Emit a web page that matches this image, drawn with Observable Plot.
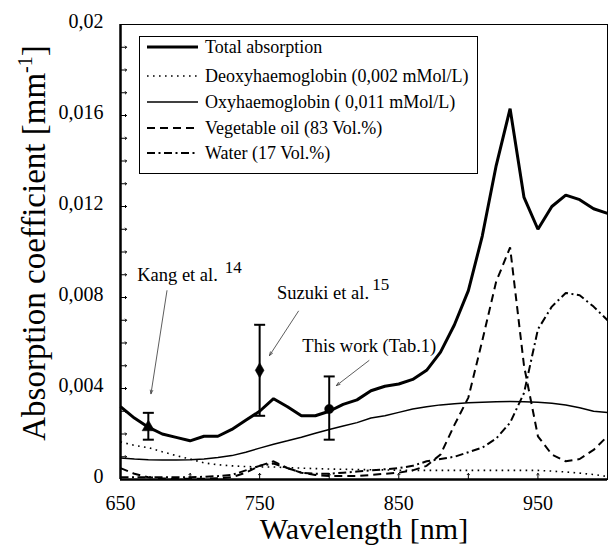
<!DOCTYPE html>
<html>
<head>
<meta charset="utf-8">
<script src="https://cdn.jsdelivr.net/npm/d3@7"></script>
<script src="https://cdn.jsdelivr.net/npm/@observablehq/plot@0.6"></script>
<style>
  html, body { margin: 0; padding: 0; background: #fff; }
  #chart svg { display: block; }
  #chart svg text { font-family: "Liberation Serif", serif; }
</style>
</head>
<body>
<div id="chart"></div>
<script>
// ---- data ----
const wavelength = [650,660,670,680,690,700,710,720,730,740,750,760,770,780,790,800,810,820,830,840,850,860,870,880,890,900,910,920,930,940,950,960,970,980,990,1000];
const totalAbs = [0.0032,0.0027,0.0023,0.0020,0.00185,0.0017,0.0019,0.0019,0.0022,0.0026,0.0030,0.00355,0.0032,0.0028,0.0028,0.0030,0.0033,0.0035,0.0039,0.0041,0.0042,0.0044,0.0048,0.0056,0.0068,0.0083,0.0107,0.0138,0.0163,0.0124,0.0110,0.0120,0.0125,0.0123,0.0119,0.0117];
const deoxy = [0.00165,0.0015,0.0014,0.00122,0.00105,0.0009,0.00073,0.00065,0.0006,0.00057,0.00055,0.00055,0.00052,0.0005,0.00048,0.00046,0.00045,0.00044,0.00043,0.00042,0.00041,0.0004,0.0004,0.0004,0.0004,0.0004,0.0004,0.0004,0.0004,0.0004,0.0004,0.00037,0.00033,0.00028,0.00022,0.00013];
const oxy = [0.00095,0.0009,0.00087,0.00086,0.00086,0.00087,0.0009,0.00097,0.00105,0.0012,0.00138,0.00155,0.0017,0.00186,0.00203,0.0022,0.00235,0.0025,0.0027,0.0028,0.00295,0.0031,0.0032,0.00328,0.00333,0.00337,0.0034,0.00342,0.00343,0.00342,0.0034,0.00335,0.00327,0.00315,0.003,0.00295];
const oil = [0.0005,0.00025,0.0001,0.00005,0.00003,0.00003,0.00003,0.00005,0.0001,0.0003,0.0006,0.0008,0.0005,0.0003,0.0002,0.00015,0.00015,0.00015,0.0002,0.00025,0.0003,0.0004,0.0006,0.0011,0.0024,0.0036,0.0061,0.0087,0.0102,0.0050,0.0019,0.0011,0.0008,0.0009,0.0013,0.0019];
const water = [0.0001,0.0001,0.0001,0.0001,0.0001,0.0001,0.00012,0.00015,0.0002,0.0004,0.0006,0.0007,0.0005,0.0003,0.00025,0.00025,0.0003,0.00035,0.0004,0.00045,0.0005,0.0006,0.0008,0.0009,0.001,0.0012,0.0014,0.0018,0.0025,0.0038,0.0066,0.0076,0.0082,0.0081,0.0076,0.007];

const seriesNames = ["Total absorption","Deoxyhaemoglobin (0,002 mMol/L)","Oxyhaemoglobin ( 0,011 mMol/L)","Vegetable oil (83 Vol.%)","Water (17 Vol.%)"];

// measured points with error bars
const measName = ["Kang", "Suzuki", "This work"];
const measX = [670, 750, 800];
const measY = [0.0023, 0.0048, 0.0031];
const measLo = [0.00175, 0.0028, 0.00175];
const measHi = [0.00293, 0.0068, 0.00453];
const measSymbol = ["triangle", "diamond", "circle"];

// annotations (data units)
const annText = ["Kang et al.", "Suzuki et al.", "This work (Tab.1)"];
const annX = [662, 762.5, 780.7];
const annY = [0.0090, 0.0082, 0.00585];
const supText = ["14", "15"];
const supX = [725, 831];
const supY = [0.0093, 0.00857];
const arrowX1 = [683.4, 777.9, 828.6];
const arrowY1 = [0.0083, 0.0074, 0.00523];
const arrowX2 = [671.9, 757.1, 805.2];
const arrowY2 = [0.00377, 0.00545, 0.00413];

// ticks
const yTicks = [0, 0.004, 0.008, 0.012, 0.016, 0.02];
const yTickLabels = ["0", "0,004", "0,008", "0,012", "0,016", "0,02"];
const yMinorTicks = [0.001,0.002,0.003,0.004,0.005,0.006,0.007,0.008,0.009,0.010,0.011,0.012,0.013,0.014,0.015,0.016,0.017,0.018,0.019];
const xTicks = [650, 750, 850, 950];
const xTickLabels = ["650", "750", "850", "950"];
const xMinorTicks = [700, 750, 800, 850, 900, 950];
const xMin = 650, xMax = 1000, yMin = 0, yMax = 0.02;

// ---- build tables ----
const rows = (arr) => wavelength.map((w, i) => ({w, v: arr[i]}));
const meas = measName.map((n, i) => ({n, x: measX[i], y: measY[i], lo: measLo[i], hi: measHi[i], s: measSymbol[i]}));
const ann = annText.map((t, i) => ({t, x: annX[i], y: annY[i]}));
const sups = supText.map((t, i) => ({t, x: supX[i], y: supY[i]}));
const arrows = arrowX1.map((x1, i) => ({x1, y1: arrowY1[i], x2: arrowX2[i], y2: arrowY2[i]}));

const capSymbol = {
  draw(ctx, size) {
    const r = Math.sqrt(size / Math.PI);
    ctx.moveTo(-r, 0);
    ctx.lineTo(r, 0);
  }
};

const styles = [
  {strokeWidth: 3, dash: null},
  {strokeWidth: 1.6, dash: "1.6,4.4"},
  {strokeWidth: 1.5, dash: null},
  {strokeWidth: 2, dash: "8,5"},
  {strokeWidth: 2, dash: "8,3.5,2,3.5"}
];
const seriesData = [totalAbs, deoxy, oxy, oil, water];
const FONT = '"Liberation Serif", serif';

const plot = Plot.plot({
  width: 608,
  height: 548,
  marginLeft: 120,
  marginRight: 1,
  marginTop: 24,
  marginBottom: 69,
  x: {domain: [xMin, xMax]},
  y: {domain: [yMin, yMax]},
  style: {fontFamily: FONT, background: "white", color: "black"},
  marks: [
    Plot.frame({stroke: "black", strokeWidth: 1}),
    // inward minor ticks
    Plot.vector(yMinorTicks, {x: () => xMin, y: (d) => d, length: 6, rotate: 90, anchor: "start", stroke: "black", strokeWidth: 1}),
    Plot.vector(xMinorTicks, {x: (d) => d, y: () => yMin, length: 6, rotate: 0, anchor: "start", stroke: "black", strokeWidth: 1}),
    // tick labels
    Plot.axisY(yTicks, {anchor: "left", tickSize: 0, tickPadding: 17, fontSize: 20, dy: -3, tickFormat: (d) => yTickLabels[yTicks.indexOf(d)], label: null}),
    Plot.axisX(xTicks, {anchor: "bottom", tickSize: 0, tickPadding: 16, fontSize: 20, tickFormat: (d) => xTickLabels[xTicks.indexOf(d)], label: null}),
    // series
    ...seriesData.map((arr, i) => Plot.line(rows(arr), {
      x: "w", y: "v", stroke: "black",
      strokeWidth: styles[i].strokeWidth,
      strokeDasharray: styles[i].dash,
      strokeLinejoin: "miter", strokeLinecap: "butt", curve: "linear"
    })),
    // heavier left / bottom axis lines
    Plot.ruleX([xMin], {stroke: "black", strokeWidth: 2.5}),
    Plot.ruleY([yMin], {stroke: "black", strokeWidth: 2.5}),
    // error bars
    Plot.ruleX(meas, {x: "x", y1: "lo", y2: "hi", stroke: "black", strokeWidth: 2}),
    Plot.dot(meas, {x: "x", y: "lo", symbol: capSymbol, r: 5.5, stroke: "black", strokeWidth: 2}),
    Plot.dot(meas, {x: "x", y: "hi", symbol: capSymbol, r: 5.5, stroke: "black", strokeWidth: 2}),
    Plot.dot(meas, {x: "x", y: "y", symbol: "s", r: 4.6, fill: "black", stroke: "black", strokeWidth: 0.5}),
    // annotations
    Plot.arrow(arrows, {x1: "x1", y1: "y1", x2: "x2", y2: "y2", stroke: "#333", strokeWidth: 0.8, headLength: 7, headAngle: 40}),
    Plot.text(ann, {x: "x", y: "y", text: "t", textAnchor: "start", fontSize: 18.5, fill: "black"}),
    Plot.text(sups, {x: "x", y: "y", text: "t", textAnchor: "start", fontSize: 17, fill: "black"})
  ]
});

document.getElementById("chart").appendChild(plot);

// ---- legend & axis titles (pixel overlay) ----
const svg = d3.select(plot);
const lg = svg.append("g").attr("text-anchor", "start");
lg.append("rect").attr("x", 139.5).attr("y", 36.5).attr("width", 338).attr("height", 137)
  .attr("fill", "white").attr("stroke", "black").attr("stroke-width", 1);
const legendY = [47, 76, 102, 128, 153];
seriesNames.forEach((name, i) => {
  lg.append("line").attr("x1", 147).attr("x2", 198).attr("y1", legendY[i]).attr("y2", legendY[i])
    .attr("stroke", "black").attr("stroke-width", styles[i].strokeWidth)
    .attr("stroke-dasharray", styles[i].dash);
  lg.append("text").attr("x", 205).attr("y", legendY[i]).attr("dy", "0.33em")
    .attr("text-anchor", "start")
    .attr("font-size", 18).attr("fill", "black").text(name);
});

// y title
const yt = svg.append("text")
  .attr("transform", "translate(45,243) rotate(-90)")
  .attr("text-anchor", "middle")
  .attr("font-size", 33).attr("fill", "black");
yt.append("tspan").text("Absorption coefficient [mm");
yt.append("tspan").attr("dy", -13).attr("font-size", 20).text("-1");
yt.append("tspan").attr("dy", 13).text("]");

// x title
svg.append("text").attr("x", 364).attr("y", 539).attr("text-anchor", "middle")
  .attr("font-size", 30).attr("fill", "black").text("Wavelength [nm]");
</script>
</body>
</html>
